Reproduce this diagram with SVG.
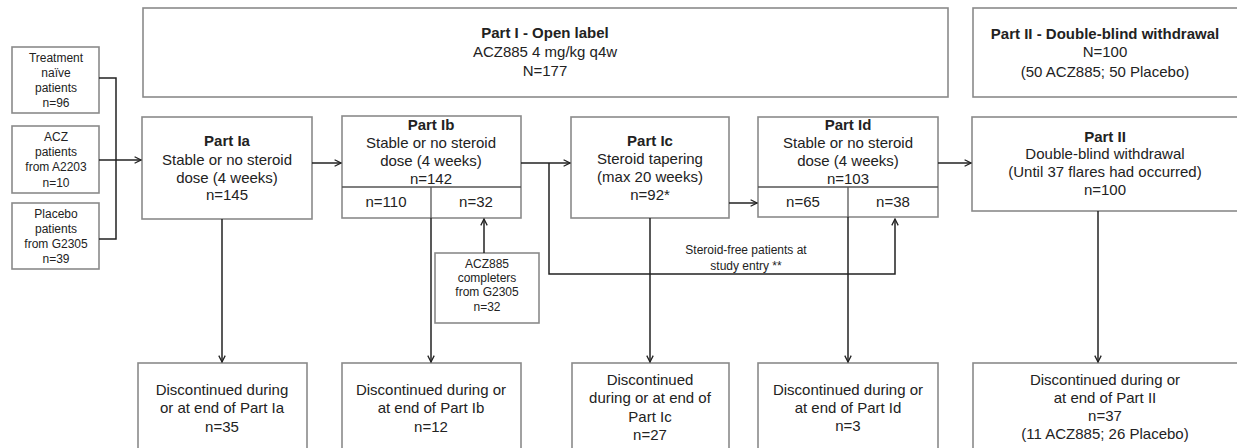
<svg xmlns="http://www.w3.org/2000/svg" width="1237" height="448" viewBox="0 0 1237 448">
<defs>
<marker id="arr" viewBox="0 0 10 10" refX="9" refY="5" markerWidth="8" markerHeight="8" markerUnits="userSpaceOnUse" orient="auto">
<path d="M1,1 L9,5 L1,9" fill="none" stroke="#222" stroke-width="1.6"/>
</marker>
<style>
.box{fill:#fff;stroke:#8a8a8a;stroke-width:1.6}
.div{fill:none;stroke:#555;stroke-width:1.3}
.t{font-family:"Liberation Sans",Arial,sans-serif;font-size:15px;fill:#222;text-anchor:middle}
.b{font-weight:bold}
.s{font-size:12px}
.m{font-size:12.5px}
.c{fill:none;stroke:#222;stroke-width:1.5}
.ca{fill:none;stroke:#222;stroke-width:1.5;marker-end:url(#arr)}
</style>
</defs>

<g id="partI-header">
<rect class="box" x="143" y="8" width="805" height="89"/>
<text class="t b" x="545" y="38">Part I - Open label</text>
<text class="t" x="545" y="57">ACZ885 4 mg/kg q4w</text>
<text class="t" x="545" y="76">N=177</text>
</g>

<g id="partII-header">
<rect class="box" x="973" y="8" width="270" height="89"/>
<text class="t b" x="1105" y="39">Part II - Double-blind withdrawal</text>
<text class="t" x="1105" y="57">N=100</text>
<text class="t" x="1105" y="77">(50 ACZ885; 50 Placebo)</text>
</g>

<g id="naive">
<rect class="box" x="12" y="47" width="87" height="66"/>
<text class="t s" x="56" y="62">Treatment</text>
<text class="t s" x="56" y="77">naïve</text>
<text class="t s" x="56" y="92">patients</text>
<text class="t s" x="56" y="107">n=96</text>
</g>

<g id="acz-a2203">
<rect class="box" x="12" y="126" width="87" height="67"/>
<text class="t s" x="56" y="141">ACZ</text>
<text class="t s" x="56" y="156">patients</text>
<text class="t s" x="56" y="171">from A2203</text>
<text class="t s" x="56" y="187">n=10</text>
</g>

<g id="placebo-g2305">
<rect class="box" x="12" y="203" width="87" height="66"/>
<text class="t s" x="56" y="218">Placebo</text>
<text class="t s" x="56" y="233">patients</text>
<text class="t s" x="56" y="248">from G2305</text>
<text class="t s" x="56" y="263">n=39</text>
</g>

<g id="partIa">
<rect class="box" x="142" y="117" width="170" height="102"/>
<text class="t b" x="227" y="146">Part Ia</text>
<text class="t" x="227" y="165">Stable or no steroid</text>
<text class="t" x="227" y="183">dose (4 weeks)</text>
<text class="t" x="227" y="200">n=145</text>
</g>

<g id="partIb">
<rect class="box" x="342" y="116" width="179" height="102"/>
<line class="div" x1="342" y1="187" x2="521" y2="187"/>
<line class="div" x1="431" y1="187" x2="431" y2="218"/>
<text class="t b" x="431" y="130">Part Ib</text>
<text class="t" x="431" y="148">Stable or no steroid</text>
<text class="t" x="431" y="166">dose (4 weeks)</text>
<text class="t" x="431" y="184">n=142</text>
<text class="t" x="386" y="207">n=110</text>
<text class="t" x="476" y="207">n=32</text>
</g>

<g id="acz885-completers">
<rect class="box" x="435" y="253" width="104" height="70"/>
<text class="t s" x="487" y="268">ACZ885</text>
<text class="t s" x="487" y="282">completers</text>
<text class="t s" x="487" y="296">from G2305</text>
<text class="t s" x="487" y="311">n=32</text>
</g>

<g id="partIc">
<rect class="box" x="571" y="117" width="158" height="101"/>
<text class="t b" x="650" y="146">Part Ic</text>
<text class="t" x="650" y="164">Steroid tapering</text>
<text class="t" x="650" y="182">(max 20 weeks)</text>
<text class="t" x="650" y="200">n=92*</text>
</g>

<g id="partId">
<rect class="box" x="758" y="117" width="180" height="100"/>
<line class="div" x1="758" y1="187" x2="938" y2="187"/>
<line class="div" x1="848" y1="187" x2="848" y2="217"/>
<text class="t b" x="848" y="130">Part Id</text>
<text class="t" x="848" y="148">Stable or no steroid</text>
<text class="t" x="848" y="166">dose (4 weeks)</text>
<text class="t" x="848" y="184">n=103</text>
<text class="t" x="803" y="207">n=65</text>
<text class="t" x="893" y="207">n=38</text>
</g>

<g id="partII">
<rect class="box" x="972" y="117" width="271" height="94"/>
<text class="t b" x="1105" y="142">Part II</text>
<text class="t" x="1105" y="159">Double-blind withdrawal</text>
<text class="t" x="1105" y="177">(Until 37 flares had occurred)</text>
<text class="t" x="1105" y="195">n=100</text>
</g>

<g id="disc-Ia">
<rect class="box" x="138" y="363" width="169" height="95"/>
<text class="t" x="222" y="395">Discontinued during</text>
<text class="t" x="222" y="413">or at end of Part Ia</text>
<text class="t" x="222" y="432">n=35</text>
</g>

<g id="disc-Ib">
<rect class="box" x="342" y="363" width="179" height="95"/>
<text class="t" x="431" y="395">Discontinued during or</text>
<text class="t" x="431" y="413">at end of Part Ib</text>
<text class="t" x="431" y="432">n=12</text>
</g>

<g id="disc-Ic">
<rect class="box" x="572" y="363" width="157" height="95"/>
<text class="t" x="650" y="385">Discontinued</text>
<text class="t" x="650" y="403">during or at end of</text>
<text class="t" x="650" y="422">Part Ic</text>
<text class="t" x="650" y="440">n=27</text>
</g>

<g id="disc-Id">
<rect class="box" x="758" y="363" width="180" height="95"/>
<text class="t" x="848" y="395">Discontinued during or</text>
<text class="t" x="848" y="413">at end of Part Id</text>
<text class="t" x="848" y="431">n=3</text>
</g>

<g id="disc-II">
<rect class="box" x="973" y="363" width="270" height="95"/>
<text class="t" x="1105" y="385">Discontinued during or</text>
<text class="t" x="1105" y="403">at end of Part II</text>
<text class="t" x="1105" y="421">n=37</text>
<text class="t" x="1105" y="439">(11 ACZ885; 26 Placebo)</text>
</g>

<g id="connectors">
<polyline class="c" points="99,78 116,78 116,239 99,239"/>
<line class="ca" x1="99" y1="160" x2="141" y2="160"/>
<line class="ca" x1="312" y1="163" x2="341" y2="163"/>
<line class="ca" x1="521" y1="163" x2="570" y2="163"/>
<polyline class="ca" points="549,163 549,274 895,274 895,219"/>
<line class="ca" x1="729" y1="203" x2="757" y2="203"/>
<line class="ca" x1="938" y1="163" x2="971" y2="163"/>
<line class="ca" x1="484" y1="253" x2="484" y2="219"/>
<line class="ca" x1="222" y1="219" x2="222" y2="362"/>
<line class="ca" x1="431" y1="218" x2="431" y2="362"/>
<line class="ca" x1="650" y1="218" x2="650" y2="362"/>
<line class="ca" x1="848" y1="217" x2="848" y2="362"/>
<line class="ca" x1="1098" y1="211" x2="1098" y2="362"/>
<text class="t s" x="746" y="254">Steroid-free patients at</text>
<text class="t s" x="746" y="270">study entry **</text>
</g>
</svg>
